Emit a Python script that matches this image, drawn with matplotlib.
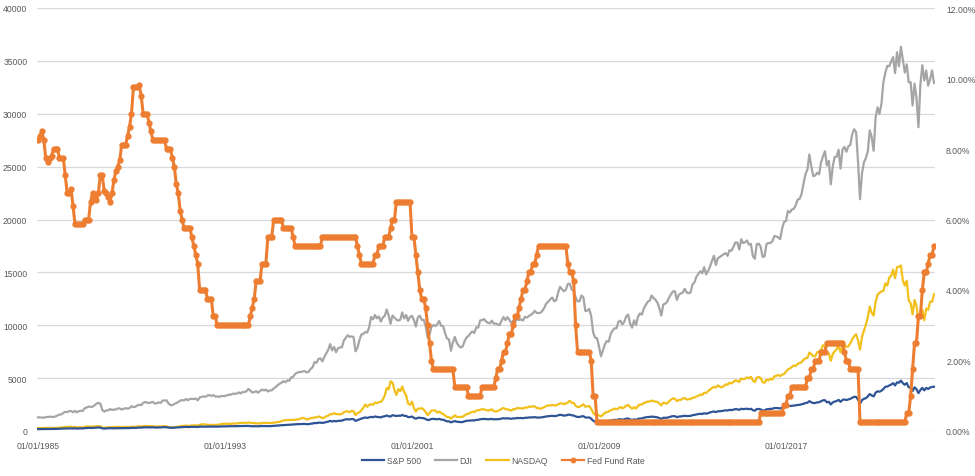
import numpy as np
import matplotlib
matplotlib.use('Agg')
import matplotlib.pyplot as plt
from matplotlib.ticker import FuncFormatter, MultipleLocator
from matplotlib.lines import Line2D

# ---------------- data (monthly, Jan 1985 .. May 2023) ----------------
series_names = ['S&P 500', 'DJI', 'NASDAQ', 'Fed Fund Rate']
date_labels = ['01/01/1985', '01/01/1993', '01/01/2001', '01/01/2009', '01/01/2017']

sp500 = [
    179.6, 181.2, 180.7, 179.8, 189.6, 191.9, 190.9, 188.6, 182.1, 189.8, 202.2, 211.3,
    211.8, 226.9, 238.9, 235.5, 247.4, 250.8, 236.1, 252.9, 231.3, 244.0, 249.2, 242.2,
    274.1, 284.2, 291.7, 288.4, 290.1, 304.0, 318.7, 329.8, 321.8, 251.8, 230.3, 247.1,
    257.1, 267.8, 258.9, 261.3, 262.2, 273.5, 272.0, 261.5, 271.9, 279.0, 273.7, 277.7,
    297.5, 288.9, 294.9, 309.6, 320.5, 318.0, 346.1, 351.5, 349.2, 340.4, 346.0, 353.4,
    329.1, 331.9, 339.9, 330.8, 361.2, 358.0, 356.2, 322.6, 306.1, 304.0, 322.2, 330.2,
    343.9, 367.1, 375.2, 375.3, 389.8, 371.2, 387.8, 395.4, 387.9, 392.5, 375.2, 417.1,
    408.8, 412.7, 403.7, 415.0, 415.4, 408.1, 424.2, 414.0, 417.8, 418.7, 431.4, 435.7,
    438.8, 443.4, 451.7, 440.2, 450.2, 450.5, 448.1, 463.6, 458.9, 467.8, 461.8, 466.5,
    481.6, 467.1, 445.8, 450.9, 456.5, 444.3, 458.3, 475.5, 462.7, 472.4, 453.7, 459.3,
    470.4, 487.4, 500.7, 514.7, 533.4, 544.8, 562.1, 561.9, 584.4, 581.5, 605.4, 615.9,
    636.0, 640.4, 645.5, 654.2, 669.1, 670.6, 640.0, 652.0, 687.3, 705.3, 757.0, 740.7,
    786.2, 790.8, 757.1, 801.3, 848.3, 885.1, 954.3, 899.5, 947.3, 914.6, 955.4, 970.4,
    980.3, 1049.3, 1101.8, 1111.8, 1090.8, 1133.8, 1120.7, 957.3, 1017.0, 1098.7, 1163.6, 1229.2,
    1279.6, 1238.3, 1286.4, 1335.2, 1301.8, 1372.7, 1328.7, 1320.4, 1282.7, 1362.9, 1388.9, 1469.3,
    1394.5, 1366.4, 1498.6, 1452.4, 1420.6, 1454.6, 1430.8, 1517.7, 1436.5, 1429.4, 1315.0, 1320.3,
    1366.0, 1239.9, 1160.3, 1249.5, 1255.8, 1224.4, 1211.2, 1133.6, 1040.9, 1059.8, 1139.5, 1148.1,
    1130.2, 1106.7, 1147.4, 1076.9, 1067.1, 989.8, 911.6, 916.1, 815.3, 885.8, 936.3, 879.8,
    855.7, 841.2, 848.2, 916.9, 963.6, 974.5, 990.3, 1008.0, 996.0, 1050.7, 1058.2, 1111.9,
    1131.1, 1144.9, 1126.2, 1107.3, 1120.7, 1140.8, 1101.7, 1104.2, 1114.6, 1130.2, 1173.8, 1211.9,
    1181.3, 1203.6, 1180.6, 1156.9, 1191.5, 1191.3, 1234.2, 1220.3, 1228.8, 1207.0, 1249.5, 1248.3,
    1280.1, 1280.7, 1294.8, 1310.6, 1270.1, 1270.2, 1276.7, 1303.8, 1335.9, 1377.9, 1400.6, 1418.3,
    1438.2, 1406.8, 1420.9, 1482.4, 1530.6, 1503.4, 1455.3, 1474.0, 1526.8, 1549.4, 1481.1, 1468.4,
    1378.6, 1330.6, 1322.7, 1385.6, 1400.4, 1280.0, 1267.4, 1282.8, 1166.4, 968.8, 896.2, 903.3,
    825.9, 735.1, 797.9, 872.8, 919.1, 919.3, 987.5, 1020.6, 1057.1, 1036.2, 1095.6, 1115.1,
    1073.9, 1104.5, 1169.4, 1186.7, 1089.4, 1030.7, 1101.6, 1049.3, 1141.2, 1183.3, 1180.6, 1257.6,
    1286.1, 1327.2, 1325.8, 1363.6, 1345.2, 1320.6, 1292.3, 1218.9, 1131.4, 1253.3, 1247.0, 1257.6,
    1312.4, 1365.7, 1408.5, 1397.9, 1310.3, 1362.2, 1379.3, 1406.6, 1440.7, 1412.2, 1416.2, 1426.2,
    1498.1, 1514.7, 1569.2, 1597.6, 1630.7, 1606.3, 1685.7, 1633.0, 1681.6, 1756.5, 1805.8, 1848.4,
    1782.6, 1859.5, 1872.3, 1884.0, 1923.6, 1960.2, 1930.7, 2003.4, 1972.3, 2018.1, 2067.6, 2058.9,
    1995.0, 2104.5, 2067.9, 2085.5, 2107.4, 2063.1, 2103.8, 1972.2, 1920.0, 2079.4, 2080.4, 2043.9,
    1940.2, 1932.2, 2059.7, 2065.3, 2097.0, 2098.9, 2173.6, 2171.0, 2168.3, 2126.2, 2198.8, 2238.8,
    2278.9, 2363.6, 2362.7, 2384.2, 2411.8, 2423.4, 2470.3, 2471.7, 2519.4, 2575.3, 2647.6, 2673.6,
    2823.8, 2713.8, 2640.9, 2648.1, 2705.3, 2718.4, 2816.3, 2901.5, 2914.0, 2711.7, 2760.2, 2506.9,
    2704.1, 2784.5, 2834.4, 2945.8, 2752.1, 2941.8, 2980.4, 2926.5, 2976.7, 3037.6, 3141.0, 3230.8,
    3225.5, 2954.2, 2584.6, 2912.4, 3044.3, 3100.3, 3271.1, 3500.3, 3363.0, 3270.0, 3621.6, 3756.1,
    3714.2, 3811.2, 3972.9, 4181.2, 4204.1, 4297.5, 4395.3, 4522.7, 4307.5, 4605.4, 4567.0, 4766.2,
    4515.6, 4373.9, 4530.4, 4131.9, 4132.2, 3785.4, 4130.3, 3955.0, 3585.6, 3872.0, 4080.1, 3839.5,
    4076.6, 3970.2, 4109.3, 4169.5, 4179.8,
]

dji = [
    1287, 1284, 1267, 1258, 1315, 1336, 1348, 1334, 1329, 1374, 1472, 1547,
    1571, 1709, 1819, 1784, 1877, 1893, 1775, 1898, 1768, 1878, 1914, 1896,
    2158, 2224, 2305, 2286, 2292, 2419, 2572, 2663, 2596, 1994, 1834, 1939,
    1958, 2072, 1988, 2032, 2031, 2142, 2129, 2032, 2113, 2149, 2115, 2169,
    2342, 2258, 2294, 2419, 2480, 2440, 2661, 2737, 2693, 2645, 2706, 2753,
    2591, 2627, 2707, 2657, 2877, 2881, 2905, 2614, 2452, 2442, 2560, 2634,
    2736, 2882, 2914, 2888, 3028, 2907, 3025, 3044, 3017, 3069, 2895, 3169,
    3223, 3268, 3235, 3359, 3397, 3319, 3394, 3257, 3272, 3226, 3305, 3301,
    3310, 3371, 3435, 3428, 3527, 3516, 3539, 3651, 3555, 3681, 3684, 3754,
    3978, 3832, 3636, 3682, 3758, 3625, 3765, 3913, 3843, 3908, 3739, 3834,
    3844, 4011, 4158, 4321, 4465, 4556, 4708, 4611, 4789, 4755, 5074, 5117,
    5395, 5486, 5587, 5569, 5643, 5655, 5529, 5616, 5882, 6029, 6522, 6448,
    6813, 6878, 6583, 7009, 7331, 7673, 8223, 7622, 7945, 7442, 7823, 7908,
    7907, 8546, 8800, 9063, 8900, 8952, 8883, 7539, 7843, 8592, 9117, 9181,
    9359, 9307, 9786, 10789, 10560, 10971, 10655, 10829, 10337, 10730, 10878, 11497,
    10941, 10128, 10922, 10734, 10522, 10448, 10522, 11215, 10651, 10971, 10414, 10787,
    10887, 10495, 9879, 10735, 10912, 10502, 10523, 9950, 8848, 9075, 9852, 10022,
    9920, 10106, 10404, 9946, 9925, 9243, 8737, 8664, 7592, 8397, 8896, 8342,
    8054, 7891, 7992, 8480, 8850, 8985, 9234, 9416, 9275, 9801, 9782, 10454,
    10488, 10584, 10358, 10226, 10188, 10435, 10140, 10174, 10080, 10027, 10428, 10783,
    10490, 10766, 10504, 10193, 10467, 10275, 10641, 10482, 10569, 10440, 10806, 10718,
    10865, 10993, 11109, 11367, 11168, 11150, 11186, 11381, 11679, 12081, 12222, 12463,
    12622, 12269, 12354, 13063, 13628, 13409, 13212, 13358, 13896, 13930, 13372, 13265,
    12650, 12266, 12263, 12820, 12638, 11350, 11378, 11544, 10851, 9325, 8829, 8776,
    8001, 7063, 7609, 8168, 8500, 8447, 9172, 9496, 9712, 9713, 10345, 10428,
    10067, 10325, 10857, 11009, 10137, 9774, 10466, 10015, 10788, 11118, 11006, 11578,
    11892, 12226, 12320, 12811, 12570, 12414, 12143, 11614, 10913, 11955, 12046, 12218,
    12633, 12952, 13212, 13214, 12393, 12880, 13009, 13091, 13437, 13096, 13026, 13104,
    13861, 14054, 14579, 14840, 15116, 14910, 15500, 14810, 15130, 15546, 16086, 16577,
    15699, 16322, 16458, 16581, 16717, 16827, 16563, 17098, 17043, 17391, 17828, 17823,
    17165, 18133, 17776, 17841, 18011, 17620, 17690, 16528, 16285, 17664, 17720, 17425,
    16466, 16517, 17685, 17774, 17787, 17930, 18432, 18401, 18308, 18142, 19124, 19763,
    19864, 20812, 20663, 20941, 21009, 21350, 21891, 21948, 22405, 23377, 24272, 24719,
    26149, 25029, 24103, 24163, 24416, 24271, 25415, 25965, 26458, 25116, 25538, 23327,
    25000, 25916, 25929, 26593, 24815, 26600, 26864, 26403, 26917, 27046, 28051, 28538,
    28256, 25409, 21917, 24346, 25383, 25813, 26428, 28430, 27782, 26502, 29639, 30606,
    29983, 30932, 32982, 33875, 34529, 34503, 34935, 35361, 33844, 35820, 34484, 36338,
    35132, 33893, 34678, 32977, 32990, 30775, 32845, 31510, 28726, 32733, 34590, 33147,
    34086, 32657, 33274, 34098, 32908,
]

nasdaq = [
    278.7, 284.2, 279.2, 280.6, 290.8, 296.2, 301.3, 297.7, 280.3, 292.5, 313.9, 324.9,
    335.8, 359.5, 374.7, 383.2, 392.8, 405.5, 371.4, 382.9, 350.7, 360.8, 359.6, 349.3,
    392.1, 424.0, 430.1, 417.8, 416.5, 424.7, 434.9, 454.9, 444.3, 323.3, 305.2, 330.5,
    344.7, 366.6, 374.6, 379.2, 370.3, 394.7, 387.3, 376.6, 387.7, 382.5, 371.5, 381.4,
    401.3, 399.7, 406.7, 427.6, 446.2, 435.3, 453.8, 469.3, 472.9, 455.6, 456.1, 454.8,
    415.8, 425.8, 435.5, 420.1, 459.0, 462.3, 438.2, 381.2, 344.5, 329.8, 359.1, 373.8,
    414.2, 453.1, 482.3, 484.7, 506.1, 475.9, 502.0, 525.7, 526.9, 542.9, 523.9, 586.3,
    620.2, 633.5, 603.8, 578.7, 585.3, 563.6, 580.8, 563.1, 583.3, 605.2, 652.7, 676.9,
    696.3, 670.8, 690.1, 661.4, 700.5, 703.9, 704.7, 742.8, 763.0, 779.3, 754.4, 777.0,
    800.5, 792.5, 743.5, 733.8, 735.2, 705.9, 722.2, 765.6, 764.3, 777.5, 750.3, 752.0,
    755.2, 793.7, 817.2, 843.9, 864.6, 933.5, 1001.2, 1020.1, 1043.5, 1036.1, 1059.2, 1052.1,
    1059.8, 1100.1, 1101.4, 1190.5, 1243.4, 1185.0, 1080.6, 1141.5, 1226.9, 1221.5, 1292.6, 1291.0,
    1379.9, 1309.0, 1221.7, 1260.8, 1400.3, 1442.1, 1593.8, 1587.3, 1685.7, 1593.6, 1600.6, 1570.4,
    1619.4, 1770.5, 1835.7, 1868.4, 1778.9, 1894.7, 1872.4, 1499.3, 1693.8, 1771.4, 1949.5, 2192.7,
    2505.9, 2288.0, 2461.4, 2542.9, 2470.5, 2686.1, 2638.5, 2739.4, 2746.2, 2966.4, 3336.2, 4069.3,
    3940.4, 4696.7, 4572.8, 3860.7, 3400.9, 3966.1, 3767.0, 4206.4, 3672.8, 3369.6, 2597.9, 2470.5,
    2772.7, 2151.8, 1840.3, 2116.2, 2110.5, 2160.5, 2027.1, 1805.4, 1498.8, 1690.2, 1930.6, 1950.4,
    1934.0, 1731.5, 1845.4, 1688.2, 1615.7, 1463.2, 1328.3, 1314.9, 1172.1, 1329.8, 1478.8, 1335.5,
    1320.9, 1337.5, 1341.2, 1464.3, 1595.9, 1622.8, 1735.0, 1810.5, 1786.9, 1932.2, 1960.3, 2003.4,
    2066.2, 2029.8, 1994.2, 1920.2, 1986.7, 2047.8, 1887.4, 1838.1, 1896.8, 1975.0, 2096.8, 2175.4,
    2062.4, 2051.7, 1999.2, 1921.7, 2068.2, 2057.0, 2184.8, 2152.1, 2151.7, 2120.3, 2232.8, 2205.3,
    2305.8, 2281.4, 2339.8, 2322.6, 2178.9, 2172.1, 2091.5, 2183.8, 2258.4, 2366.7, 2431.8, 2415.3,
    2463.9, 2416.2, 2421.6, 2525.1, 2604.5, 2603.2, 2546.3, 2596.4, 2701.5, 2859.1, 2661.0, 2652.3,
    2389.9, 2271.5, 2279.1, 2412.8, 2522.7, 2293.0, 2325.6, 2367.5, 2091.9, 1721.0, 1535.6, 1577.0,
    1476.4, 1377.8, 1528.6, 1717.3, 1774.3, 1835.0, 1978.5, 2009.1, 2122.4, 2045.1, 2144.6, 2269.2,
    2147.4, 2238.3, 2398.0, 2461.2, 2257.0, 2109.2, 2254.7, 2114.0, 2368.6, 2507.4, 2498.2, 2652.9,
    2700.1, 2782.3, 2781.1, 2873.5, 2835.3, 2773.5, 2756.4, 2579.5, 2415.4, 2684.4, 2620.3, 2605.2,
    2813.8, 2966.9, 3091.6, 3046.4, 2827.3, 2935.1, 2939.5, 3067.0, 3116.2, 2977.2, 3010.2, 3019.5,
    3142.1, 3160.2, 3267.5, 3328.8, 3455.9, 3403.3, 3626.4, 3589.9, 3771.5, 3919.7, 4059.9, 4176.6,
    4103.9, 4308.1, 4199.0, 4114.6, 4242.6, 4408.2, 4369.8, 4580.3, 4493.4, 4630.7, 4791.6, 4736.1,
    4635.2, 4963.5, 4900.9, 4941.4, 5070.0, 4986.9, 5128.3, 4776.5, 4620.2, 5053.8, 5108.7, 5007.4,
    4614.0, 4558.0, 4869.9, 4775.4, 4948.1, 4843.0, 5162.1, 5213.2, 5312.0, 5189.1, 5323.7, 5383.1,
    5614.8, 5825.4, 5911.7, 6047.6, 6198.5, 6140.4, 6348.1, 6428.7, 6496.0, 6728.0, 6874.0, 6903.4,
    7411.5, 7273.0, 7063.4, 7066.3, 7442.1, 7510.3, 7671.8, 8109.5, 8046.4, 7305.9, 7330.5, 6635.3,
    7281.7, 7532.5, 7729.3, 8095.4, 7453.2, 8006.2, 8175.4, 7962.9, 7999.3, 8292.4, 8665.5, 8972.6,
    9150.9, 8567.4, 7700.1, 8889.6, 9489.9, 10058.8, 10745.3, 11775.5, 11167.5, 10911.6, 12198.7, 12888.3,
    13070.7, 13192.3, 13246.9, 13962.7, 13748.7, 14504.0, 14672.7, 15259.2, 14448.6, 15498.4, 15537.7, 15645.0,
    14239.9, 13751.4, 14220.5, 12334.6, 12081.4, 11028.7, 12390.7, 11816.2, 10575.6, 10988.2, 11468.0, 10466.5,
    11584.6, 11455.5, 12221.9, 12226.6, 12935.3,
]

fed_rate = [  # percent
    8.25, 8.375, 8.5, 8.25, 7.75, 7.625, 7.75, 7.8125, 8.0, 8.0, 8.0, 7.75,
    7.75, 7.75, 7.25, 6.75, 6.75, 6.875, 6.375, 5.875, 5.875, 5.875, 5.875, 5.875,
    6.0, 6.0, 6.0, 6.5, 6.75, 6.625, 6.5625, 6.75, 7.25, 7.25, 6.8125, 6.75,
    6.625, 6.5, 6.75, 7.125, 7.375, 7.5, 7.6875, 8.125, 8.125, 8.125, 8.375, 8.625,
    9.0, 9.75, 9.75, 9.75, 9.8125, 9.5, 9.0, 9.0, 9.0, 8.75, 8.5, 8.25,
    8.25, 8.25, 8.25, 8.25, 8.25, 8.25, 8.0, 8.0, 8.0, 7.75, 7.5, 7.0,
    6.75, 6.25, 6.0, 5.75, 5.75, 5.75, 5.75, 5.5, 5.25, 5.0, 4.75, 4.0,
    4.0, 4.0, 4.0, 3.75, 3.75, 3.75, 3.25, 3.25, 3.0, 3.0, 3.0, 3.0,
    3.0, 3.0, 3.0, 3.0, 3.0, 3.0, 3.0, 3.0, 3.0, 3.0, 3.0, 3.0,
    3.0, 3.25, 3.5, 3.75, 4.25, 4.25, 4.25, 4.75, 4.75, 4.75, 5.5, 5.5,
    5.5, 6.0, 6.0, 6.0, 6.0, 6.0, 5.75, 5.75, 5.75, 5.75, 5.75, 5.5,
    5.25, 5.25, 5.25, 5.25, 5.25, 5.25, 5.25, 5.25, 5.25, 5.25, 5.25, 5.25,
    5.25, 5.25, 5.5, 5.5, 5.5, 5.5, 5.5, 5.5, 5.5, 5.5, 5.5, 5.5,
    5.5, 5.5, 5.5, 5.5, 5.5, 5.5, 5.5, 5.5, 5.25, 5.0, 4.75, 4.75,
    4.75, 4.75, 4.75, 4.75, 4.75, 5.0, 5.0, 5.25, 5.25, 5.25, 5.5, 5.5,
    5.5, 5.75, 6.0, 6.0, 6.5, 6.5, 6.5, 6.5, 6.5, 6.5, 6.5, 6.5,
    5.5, 5.5, 5.0, 4.5, 4.0, 3.75, 3.75, 3.5, 3.0, 2.5, 2.0, 1.75,
    1.75, 1.75, 1.75, 1.75, 1.75, 1.75, 1.75, 1.75, 1.75, 1.75, 1.25, 1.25,
    1.25, 1.25, 1.25, 1.25, 1.25, 1.0, 1.0, 1.0, 1.0, 1.0, 1.0, 1.0,
    1.25, 1.25, 1.25, 1.25, 1.25, 1.25, 1.25, 1.5, 1.75, 1.75, 2.0, 2.25,
    2.25, 2.5, 2.75, 2.75, 3.0, 3.25, 3.25, 3.5, 3.75, 4.0, 4.0, 4.25,
    4.5, 4.5, 4.75, 4.75, 5.0, 5.25, 5.25, 5.25, 5.25, 5.25, 5.25, 5.25,
    5.25, 5.25, 5.25, 5.25, 5.25, 5.25, 5.25, 5.25, 4.75, 4.5, 4.5, 4.25,
    3.0, 2.25, 2.25, 2.25, 2.25, 2.25, 2.25, 2.25, 2.0, 1.0, 1.0, 0.25,
    0.25, 0.25, 0.25, 0.25, 0.25, 0.25, 0.25, 0.25, 0.25, 0.25, 0.25, 0.25,
    0.25, 0.25, 0.25, 0.25, 0.25, 0.25, 0.25, 0.25, 0.25, 0.25, 0.25, 0.25,
    0.25, 0.25, 0.25, 0.25, 0.25, 0.25, 0.25, 0.25, 0.25, 0.25, 0.25, 0.25,
    0.25, 0.25, 0.25, 0.25, 0.25, 0.25, 0.25, 0.25, 0.25, 0.25, 0.25, 0.25,
    0.25, 0.25, 0.25, 0.25, 0.25, 0.25, 0.25, 0.25, 0.25, 0.25, 0.25, 0.25,
    0.25, 0.25, 0.25, 0.25, 0.25, 0.25, 0.25, 0.25, 0.25, 0.25, 0.25, 0.25,
    0.25, 0.25, 0.25, 0.25, 0.25, 0.25, 0.25, 0.25, 0.25, 0.25, 0.25, 0.5,
    0.5, 0.5, 0.5, 0.5, 0.5, 0.5, 0.5, 0.5, 0.5, 0.5, 0.5, 0.75,
    0.75, 1.0, 1.0, 1.25, 1.25, 1.25, 1.25, 1.25, 1.25, 1.25, 1.25, 1.5,
    1.5, 1.75, 1.75, 2.0, 2.0, 2.0, 2.25, 2.25, 2.25, 2.5, 2.5, 2.5,
    2.5, 2.5, 2.5, 2.5, 2.5, 2.5, 2.25, 2.0, 2.0, 1.75, 1.75, 1.75,
    1.75, 1.75, 0.25, 0.25, 0.25, 0.25, 0.25, 0.25, 0.25, 0.25, 0.25, 0.25,
    0.25, 0.25, 0.25, 0.25, 0.25, 0.25, 0.25, 0.25, 0.25, 0.25, 0.25, 0.25,
    0.25, 0.25, 0.5, 0.5, 1.0, 1.75, 2.5, 2.5, 3.25, 3.25, 4.0, 4.5,
    4.5, 4.75, 5.0, 5.0, 5.25,
]

# ---------------- styling ----------------
colors = ['#2F5496', '#A5A5A5', '#F2C01A', '#ED7D31']
label_color = '#595959'
grid_color = '#D9D9D9'
plt.rcParams['font.family'] = ['Liberation Sans', 'DejaVu Sans']
fs = 6.2

fig = plt.figure(figsize=(9.75, 4.77), dpi=100)
ax = fig.add_axes([37 / 975, 1 - 432 / 477, (935 - 37) / 975, (432 - 9) / 477])
ax2 = ax.twinx()

def month_index(n):
    return np.arange(n)

ax.plot(month_index(len(sp500)), sp500, color=colors[0], lw=1.6, zorder=3)
ax.plot(month_index(len(dji)), dji, color=colors[1], lw=1.6, zorder=2)
ax.plot(month_index(len(nasdaq)), nasdaq, color=colors[2], lw=1.6, zorder=2.5)
ax2.plot(month_index(len(fed_rate)), fed_rate, color=colors[3], lw=2.2,
         marker='o', ms=3.5, mec=colors[3], mfc=colors[3], zorder=4)

n = len(fed_rate)
ax.set_xlim(-0.5, n - 0.5)
ax.set_ylim(0, 40000)
ax2.set_ylim(0, 12)
ax.yaxis.set_major_locator(MultipleLocator(5000))
ax2.yaxis.set_major_locator(MultipleLocator(2))
ax2.yaxis.set_major_formatter(FuncFormatter(lambda v, p: f'{v:.2f}%'))

# x labels at the listed dates (month index from Jan 1985)
base_year = int(date_labels[0][-4:])
tick_pos = [(int(s[-4:]) - base_year) * 12 for s in date_labels]
ax.set_xticks(tick_pos)
ax.set_xticklabels(date_labels)

ax.grid(axis='y', color=grid_color, lw=0.9)
ax.set_axisbelow(True)
for a in (ax, ax2):
    for s in a.spines.values():
        s.set_visible(False)
    a.tick_params(length=0, labelsize=fs, labelcolor=label_color)
ax.tick_params(axis='y', pad=7)
ax.tick_params(axis='x', pad=7)
ax2.tick_params(axis='y', pad=8)

handles = [Line2D([], [], color=colors[0], lw=1.6),
           Line2D([], [], color=colors[1], lw=1.6),
           Line2D([], [], color=colors[2], lw=1.6),
           Line2D([], [], color=colors[3], lw=1.6, marker='o', ms=3.2)]
fig.legend(handles, series_names, loc='center', bbox_to_anchor=(0.516, 0.032),
           ncol=4, frameon=False, fontsize=fs, labelcolor=label_color,
           handlelength=2.6, columnspacing=1.6, handletextpad=0.3)

fig.savefig('out.png', dpi=100)
